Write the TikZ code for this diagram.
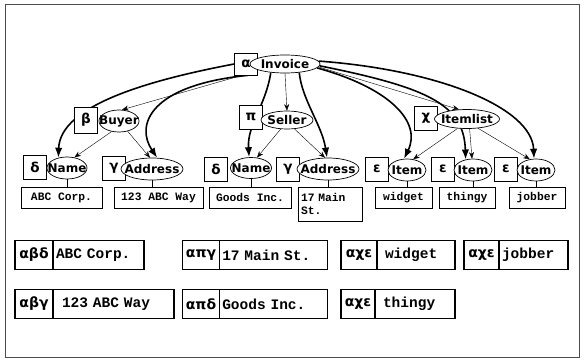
\documentclass[tikz,border=0pt]{standalone}
\usepackage{fontspec}
\setmainfont{DejaVu Sans}
\setmonofont{Liberation Mono}
\usetikzlibrary{arrows.meta,shapes.geometric,positioning,backgrounds}

\begin{document}
\begin{tikzpicture}[x=1pt, y=-1pt, line width=0.7pt,
    elem/.style={ellipse, draw, fill=white, font=\fontsize{12}{12}\selectfont\bfseries,
      inner xsep=-12pt, inner ysep=-3pt, minimum height=22pt},
    tag/.style={draw, fill=white, font=\fontsize{13.5}{13.5}\selectfont\bfseries,
      minimum width=23pt, minimum height=24pt, inner sep=0pt},
    leaf/.style={draw, fill=white, font=\fontsize{11.3}{13}\selectfont\ttfamily\bfseries,
      minimum height=21pt, inner sep=2pt},
    edge/.style={-{Stealth[length=6.5pt,width=5pt]}},
    route/.style={-{Latex[length=10pt,width=7.5pt]}, line width=1.6pt},
    idx/.style={draw, line width=1.4pt, outer sep=0pt, minimum height=29pt, inner sep=0pt,
      font=\fontsize{14}{14}\selectfont\bfseries},
    rec/.style={draw, line width=1.4pt, outer sep=0pt, minimum height=29pt, inner xsep=3pt,
      font=\fontsize{14.5}{14.5}\selectfont\ttfamily\bfseries, align=left}]
  \useasboundingbox (0,0) rectangle (584,364);

  % arbol del documento
  \node[tag, minimum height=22pt] (ta) at (246,64) {α};
  \node[elem, minimum width=70pt, minimum height=18pt] (inv) at (285,64) {Invoice};
  \node[tag, minimum height=26pt] (tb) at (86,120) {β};
  \node[elem, minimum width=40pt] (buy) at (119,121) {Buyer};
  \node[tag] (tp) at (251,117) {π};
  \node[elem, minimum width=52pt, minimum height=18pt] (sel) at (287,120) {Seller};
  \node[tag] (tc) at (426,118) {χ};
  \node[elem, minimum width=65pt, minimum height=19pt] (itl) at (467,119) {Itemlist};

  \node[tag] (td1) at (35,167) {δ};
  \node[elem, minimum width=40pt] (nm1) at (67,168) {Name};
  \node[tag] (tg1) at (114,168) {γ};
  \node[elem, minimum width=62pt] (ad1) at (152,169) {Address};
  \node[tag] (td2) at (216,169) {δ};
  \node[elem, minimum width=41pt, minimum height=21pt] (nm2) at (251,168) {Name};
  \node[tag] (tg2) at (288,169) {γ};
  \node[elem, minimum width=62pt] (ad2) at (328,169) {Address};
  \node[tag] (te1) at (377,169) {ε};
  \node[elem, minimum width=38pt] (it1) at (407,170) {Item};
  \node[tag] (te2) at (443,169) {ε};
  \node[elem, minimum width=38pt] (it2) at (473,170) {Item};
  \node[tag] (te3) at (506,169) {ε};
  \node[elem, minimum width=38pt] (it3) at (536,170) {Item};

  % valores
  \node[leaf, minimum width=81pt] (lf1) at (61.5,197.5) {ABC Corp.};
  \node[leaf, minimum width=89pt] (lf2) at (158.5,197.5) {123 ABC Way};
  \node[leaf, minimum width=82pt] (lf3) at (250,197.5) {Goods Inc.};
  \node[leaf, anchor=north, text width=58pt, align=left, minimum height=34pt,
    inner sep=3pt] (lf4) at (330,187) {17 Main\\St.};
  \node[leaf, minimum width=57pt] (lf5) at (403.5,197.5) {widget};
  \node[leaf, minimum width=56pt] (lf6) at (467,197.5) {thingy};
  \node[leaf, minimum width=56pt] (lf7) at (537,197.5) {jobber};

  % indice de caminos
  \node[idx, minimum width=38pt] (k1) at (34,255) {αβδ};
  \node[rec, text width=85pt, right=0pt of k1] (v1) {ABC Corp.};
  \node[idx, minimum width=36.5pt] (k2) at (201,255) {απγ};
  \node[rec, text width=102pt, right=0pt of k2] (v2) {17 Main St.};
  \node[idx, minimum width=36pt] (k3) at (359,255) {αχε};
  \node[rec, text width=72pt, right=0pt of k3] (v3) {\hspace{5pt}widget};
  \node[idx, minimum width=35pt] (k4) at (481.5,255) {αχε};
  \node[rec, text width=63pt, right=0pt of k4] (v4) {jobber};
  \node[idx, minimum width=38pt] (k5) at (34,304) {αβγ};
  \node[rec, text width=115pt, right=0pt of k5] (v5) {\hspace{6pt}123 ABC Way};
  \node[idx, minimum width=36.5pt] (k6) at (201,304) {απδ};
  \node[rec, text width=102pt, right=0pt of k6] (v6) {Goods Inc.};
  \node[idx, minimum width=34pt] (k7) at (358,304) {αχε};
  \node[rec, text width=74pt, right=0pt of k7] (v7) {\hspace{5pt}thingy};

  \begin{scope}[on background layer]
    \draw[black!70, line width=1pt] (5,4) rectangle (579,357);
    % aristas del arbol
    \draw[edge] (ta.-110) -- (buy.75);
    \draw[edge] (inv.south) -- (sel.north);
    \draw[edge] (inv.355) -- (itl.130);
    \draw[edge] (buy.-125) -- (nm1.55);
    \draw[edge] (buy.-50) -- (ad1.100);
    \draw[edge] (sel.-125) -- (nm2.60);
    \draw[edge] (sel.-50) -- (ad2.105);
    \draw[edge] (itl.-135) -- (it1.60);
    \draw[edge] (itl.-75) -- (it2.95);
    \draw[edge] (itl.-40) -- (it3.120);
    % hojas
    \foreach \e/\v in {nm1/lf1, ad1/lf2, nm2/lf3, ad2/lf4, it1/lf5, it2/lf6, it3/lf7}
      \draw (\e.south) -- (\e.south |- \v.north);
    % caminos desde la raiz
    \draw[route] (ta.west) .. controls (150,80) and (60,105) .. (nm1.130);
    \draw[route] (ta.-80) .. controls (150,85) and (135,125) .. (ad1.65);
    \draw[route] (inv.211) .. controls (266,105) and (247,125) .. (nm2.100);
    \draw[route] (inv.329) .. controls (302,100) and (322,125) .. (ad2.95);
    \draw[route] (inv.353) .. controls (390,88) and (422,122) .. (it1.105);
    \draw[route] (inv.357) .. controls (430,88) and (464,105) .. (it2.125);
    \draw[route] (inv.5) .. controls (440,70) and (532,108) .. (it3.100);
  \end{scope}
\end{tikzpicture}
\end{document}
